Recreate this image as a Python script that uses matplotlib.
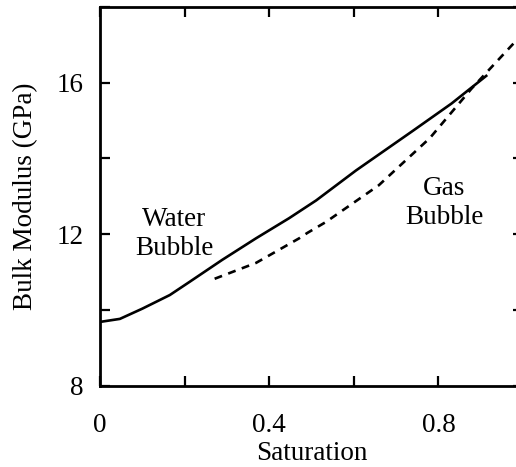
import matplotlib
matplotlib.use("Agg")
import matplotlib.pyplot as plt
from matplotlib.ticker import FixedFormatter, FixedLocator

plt.rcParams['font.family'] = ['Liberation Serif', 'DejaVu Serif']

# water bubble (solid)
water_sat = [0.0, 0.047, 0.1, 0.165, 0.212, 0.289, 0.369, 0.447, 0.511, 0.605, 0.741, 0.831, 0.913]
water_k = [9.68, 9.76, 10.03, 10.39, 10.74, 11.32, 11.89, 12.42, 12.89, 13.68, 14.74, 15.45, 16.18]

# gas bubble (dashed)
gas_sat = [0.271, 0.369, 0.471, 0.49, 0.534, 0.659, 0.78, 0.878, 0.972, 1.0]
gas_k = [10.82, 11.24, 11.89, 12.03, 12.32, 13.29, 14.54, 15.84, 16.97, 17.3]

x_ticks = [0, 0.2, 0.4, 0.6, 0.8, 1.0]
x_labels = ['0', '', '0.4', '', '0.8', '']
y_ticks = [8, 10, 12, 14, 16, 18]
y_labels = ['8', '', '12', '', '16', '']

fs = 19.5

fig = plt.figure(figsize=(5.16, 4.67), dpi=100)
ax = fig.add_axes([0.1938, 0.1745, 0.8198, 0.8105])

ax.plot(water_sat, water_k, color='black', lw=1.9, solid_joinstyle='round')
ax.plot(gas_sat, gas_k, color='black', lw=1.9, dashes=(3, 2.5))

ax.set_xlim(0, 1)
ax.set_ylim(8, 18)
ax.xaxis.set_major_locator(FixedLocator(x_ticks))
ax.xaxis.set_major_formatter(FixedFormatter(x_labels))
ax.yaxis.set_major_locator(FixedLocator(y_ticks))
ax.yaxis.set_major_formatter(FixedFormatter(y_labels))

ax.tick_params(direction='in', length=7, width=1.6, top=True, right=True,
               labelsize=fs)
ax.tick_params(axis='x', pad=20)
ax.tick_params(axis='y', pad=12)
for s in ax.spines.values():
    s.set_linewidth(2)

ax.set_xlabel('Saturation', fontsize=fs, labelpad=2)
ax.set_ylabel('Bulk Modulus (GPa)', fontsize=fs, labelpad=13)

ax.text(0.176, 12.0, 'Water\nBubble', fontsize=fs, ha='center', va='center')
ax.text(0.814, 12.82, 'Gas\nBubble', fontsize=fs, ha='center', va='center')

fig.savefig('out.png', dpi=100)
